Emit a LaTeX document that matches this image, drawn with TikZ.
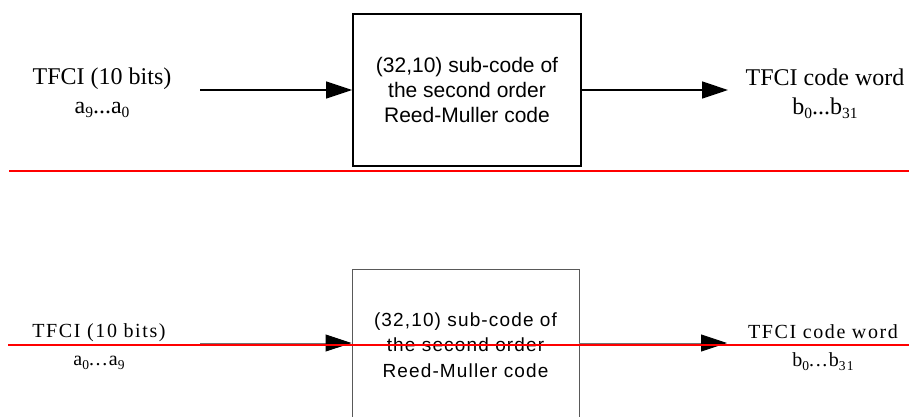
\documentclass[tikz,border=0pt]{standalone}
\usepackage{fontspec}
\setmainfont{Liberation Serif}
\newfontfamily\arialfont{Liberation Sans}
\newfontfamily\arialspfont[LetterSpace=6]{Liberation Sans}
\newfontfamily\timesspfont[LetterSpace=8]{Liberation Serif}
\usetikzlibrary{arrows.meta}
\newcommand\subtop[1]{\raisebox{-4.5pt}{\fontsize{15.5}{15.5}\selectfont #1}}
\newcommand\subbot[1]{\raisebox{-4pt}{\fontsize{13.5}{13.5}\selectfont #1}}
\tikzset{
  lbltop/.style={align=center,inner sep=0pt,font=\fontsize{24}{29}\selectfont},
  lblbot/.style={align=center,inner sep=0pt,font=\timesspfont\fontsize{20}{28}\selectfont},
  boxtop/.style={draw=black,line width=1.8pt,minimum width=228pt,minimum height=152pt,inner sep=0pt,align=center,font=\arialfont\fontsize{21}{25}\selectfont},
  boxbot/.style={draw=black!65,line width=0.9pt,minimum width=227pt,minimum height=152pt,inner sep=0pt,align=center,font=\arialspfont\fontsize{19}{25.5}\selectfont},
  arrtop/.style={draw=black,line width=1.4pt,-{Triangle[length=26pt,width=17pt]}},
  arrbot/.style={draw=black!55,line width=0.9pt,-{Triangle[length=26pt,width=17pt,color=black]}},
  redline/.style={draw=red,line width=2.8pt}
}
\begin{document}
\begin{tikzpicture}[x=1pt,y=-1pt]
\useasboundingbox (0,0) rectangle (909,416);
\clip (0,0) rectangle (909,416);
% top
\node[boxtop] (b1) at (467,90) {(32,10) sub-code of\\the second order\\Reed-Muller code};
\node[lbltop,anchor=base] (in1) at (102,113) {TFCI (10 bits)\\a\subtop{9}...a\subtop{0}};
\node[lbltop,anchor=base] (out1) at (825,114) {TFCI code word\\b\subtop{0}...b\subtop{31}};
\coordinate (s1) at (200,90);
\coordinate (e1) at (728,90);
\draw[arrtop] (s1) -- (b1.west);
\draw[arrtop] (b1.east) -- (e1);
\coordinate (r1a) at (9,171);
\coordinate (r1b) at (909,171);
\draw[redline] (r1a) -- (r1b);
% bottom
\node[boxbot] (b2) at (465.5,345) {(32,10) sub-code of\\the second order\\Reed-Muller code};
\node[lblbot,anchor=base] (in2) at (99,365) {TFCI (10 bits)\\a\subbot{0}...a\subbot{9}};
\node[lblbot,anchor=base] (out2) at (823,366) {TFCI code word\\b\subbot{0}...b\subbot{31}};
\coordinate (s2) at (200,343);
\coordinate (e2) at (727,343);
\draw[arrbot] (s2) -- (s2 -| b2.west);
\draw[arrbot] (b2.east |- e2) -- (e2);
\coordinate (r2a) at (8,345);
\coordinate (r2b) at (909,345);
\draw[redline] (r2a) -- (r2b);
\end{tikzpicture}
\end{document}
